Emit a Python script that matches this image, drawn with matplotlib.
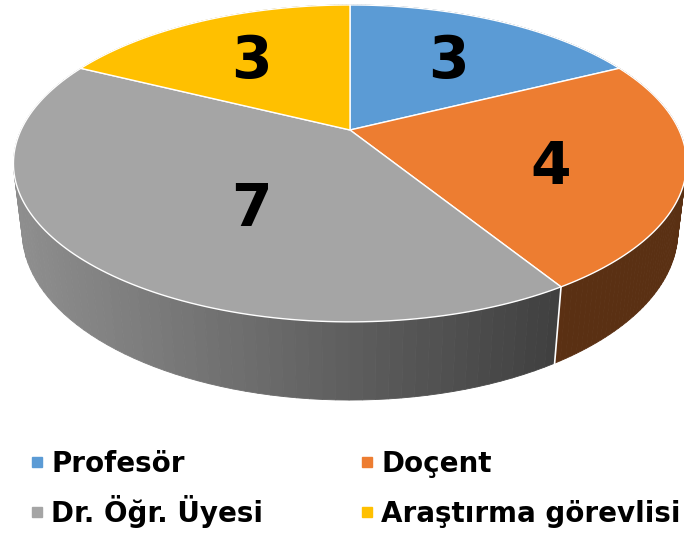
import numpy as np
import matplotlib.pyplot as plt
from matplotlib.patches import Polygon

labels = ['Profesör', 'Doçent', 'Dr. Öğr. Üyesi', 'Araştırma görevlisi']
values = [3, 4, 7, 3]
colors = ['#5B9BD5', '#ED7D31', '#A5A5A5', '#FFC000']

# perspective pie geometry (screen pixels, y down)
cx, cy = 350, 130
S = 329
phi = np.radians(27.4)
D = 4.21
h = 0.235


def proj(theta, y, r=1.0):
    X = r * np.sin(theta)
    Z = r * np.cos(theta)
    v = y * np.cos(phi) + Z * np.sin(phi)
    w = -y * np.sin(phi) + Z * np.cos(phi)
    f = 1 + w / D
    return cx + S * X / f, cy - S * v / f, w


def shade(col, x):
    k = 0.86 - 0.47 * (x - 20) / 535
    k = max(k, 0.38)
    rgb = np.array(plt.matplotlib.colors.to_rgb(col))
    return tuple(rgb * k)


fig = plt.figure(figsize=(6.84, 5.33), dpi=100)
ax = fig.add_axes([0, 0, 1, 1])
ax.set_xlim(0, 684)
ax.set_ylim(533, 0)
ax.axis('off')

total = sum(values)
bounds = np.concatenate([[0], np.cumsum(values)]) / total * 2 * np.pi

# side walls, drawn back to front
segs = []
for i in range(len(values)):
    t = np.linspace(bounds[i], bounds[i + 1], 80)
    for j in range(len(t) - 1):
        x0, y0, w0 = proj(t[j], 0)
        x1, y1, w1 = proj(t[j + 1], 0)
        x2, y2, _ = proj(t[j + 1], -h)
        x3, y3, _ = proj(t[j], -h)
        segs.append(((w0 + w1) / 2, [(x0, y0), (x1, y1), (x2, y2), (x3, y3)],
                     shade(colors[i], (x0 + x1) / 2)))
segs.sort(key=lambda s: -s[0])
for w, pts, c in segs:
    ax.add_patch(Polygon(pts, closed=True, facecolor=c, edgecolor=c, lw=0.6))

# white edges on the wall between slices that face the viewer
for b in bounds[:-1]:
    if np.cos(b) < 0:
        xa, ya, _ = proj(b, 0)
        xb, yb, _ = proj(b, -h)
        ax.plot([xa, xb], [ya, yb], color='white', lw=1.2)

# top faces
for i in range(len(values)):
    t = np.linspace(bounds[i], bounds[i + 1], 120)
    xs, ys, _ = proj(t, 0)
    pts = np.vstack([[cx, cy], np.column_stack([xs, ys])])
    ax.add_patch(Polygon(pts, closed=True, facecolor=colors[i],
                         edgecolor='white', lw=1.0, joinstyle='round'))
    # label at projected face centroid
    px, py = pts[:, 0], pts[:, 1]
    a = px * np.roll(py, -1) - np.roll(px, -1) * py
    A = a.sum() / 2
    gx = ((px + np.roll(px, -1)) * a).sum() / (6 * A)
    gy = ((py + np.roll(py, -1)) * a).sum() / (6 * A)
    ax.text(gx, gy, str(values[i]), ha='center', va='center',
            fontsize=42, fontweight='bold', color='black')

# legend, two columns filled row by row
col_x = [37, 367]
row_base = [472, 522]
for k, lab in enumerate(labels):
    x0 = col_x[k % 2]
    yb = row_base[k // 2]
    ax.plot(x0, yb - 10, marker='s', ms=7, ls='none', color=colors[k])
    ax.text(x0 + 14, yb, lab, ha='left', va='baseline',
            fontsize=20, fontweight='bold', color='black')

fig.savefig('out.png', dpi=100)
